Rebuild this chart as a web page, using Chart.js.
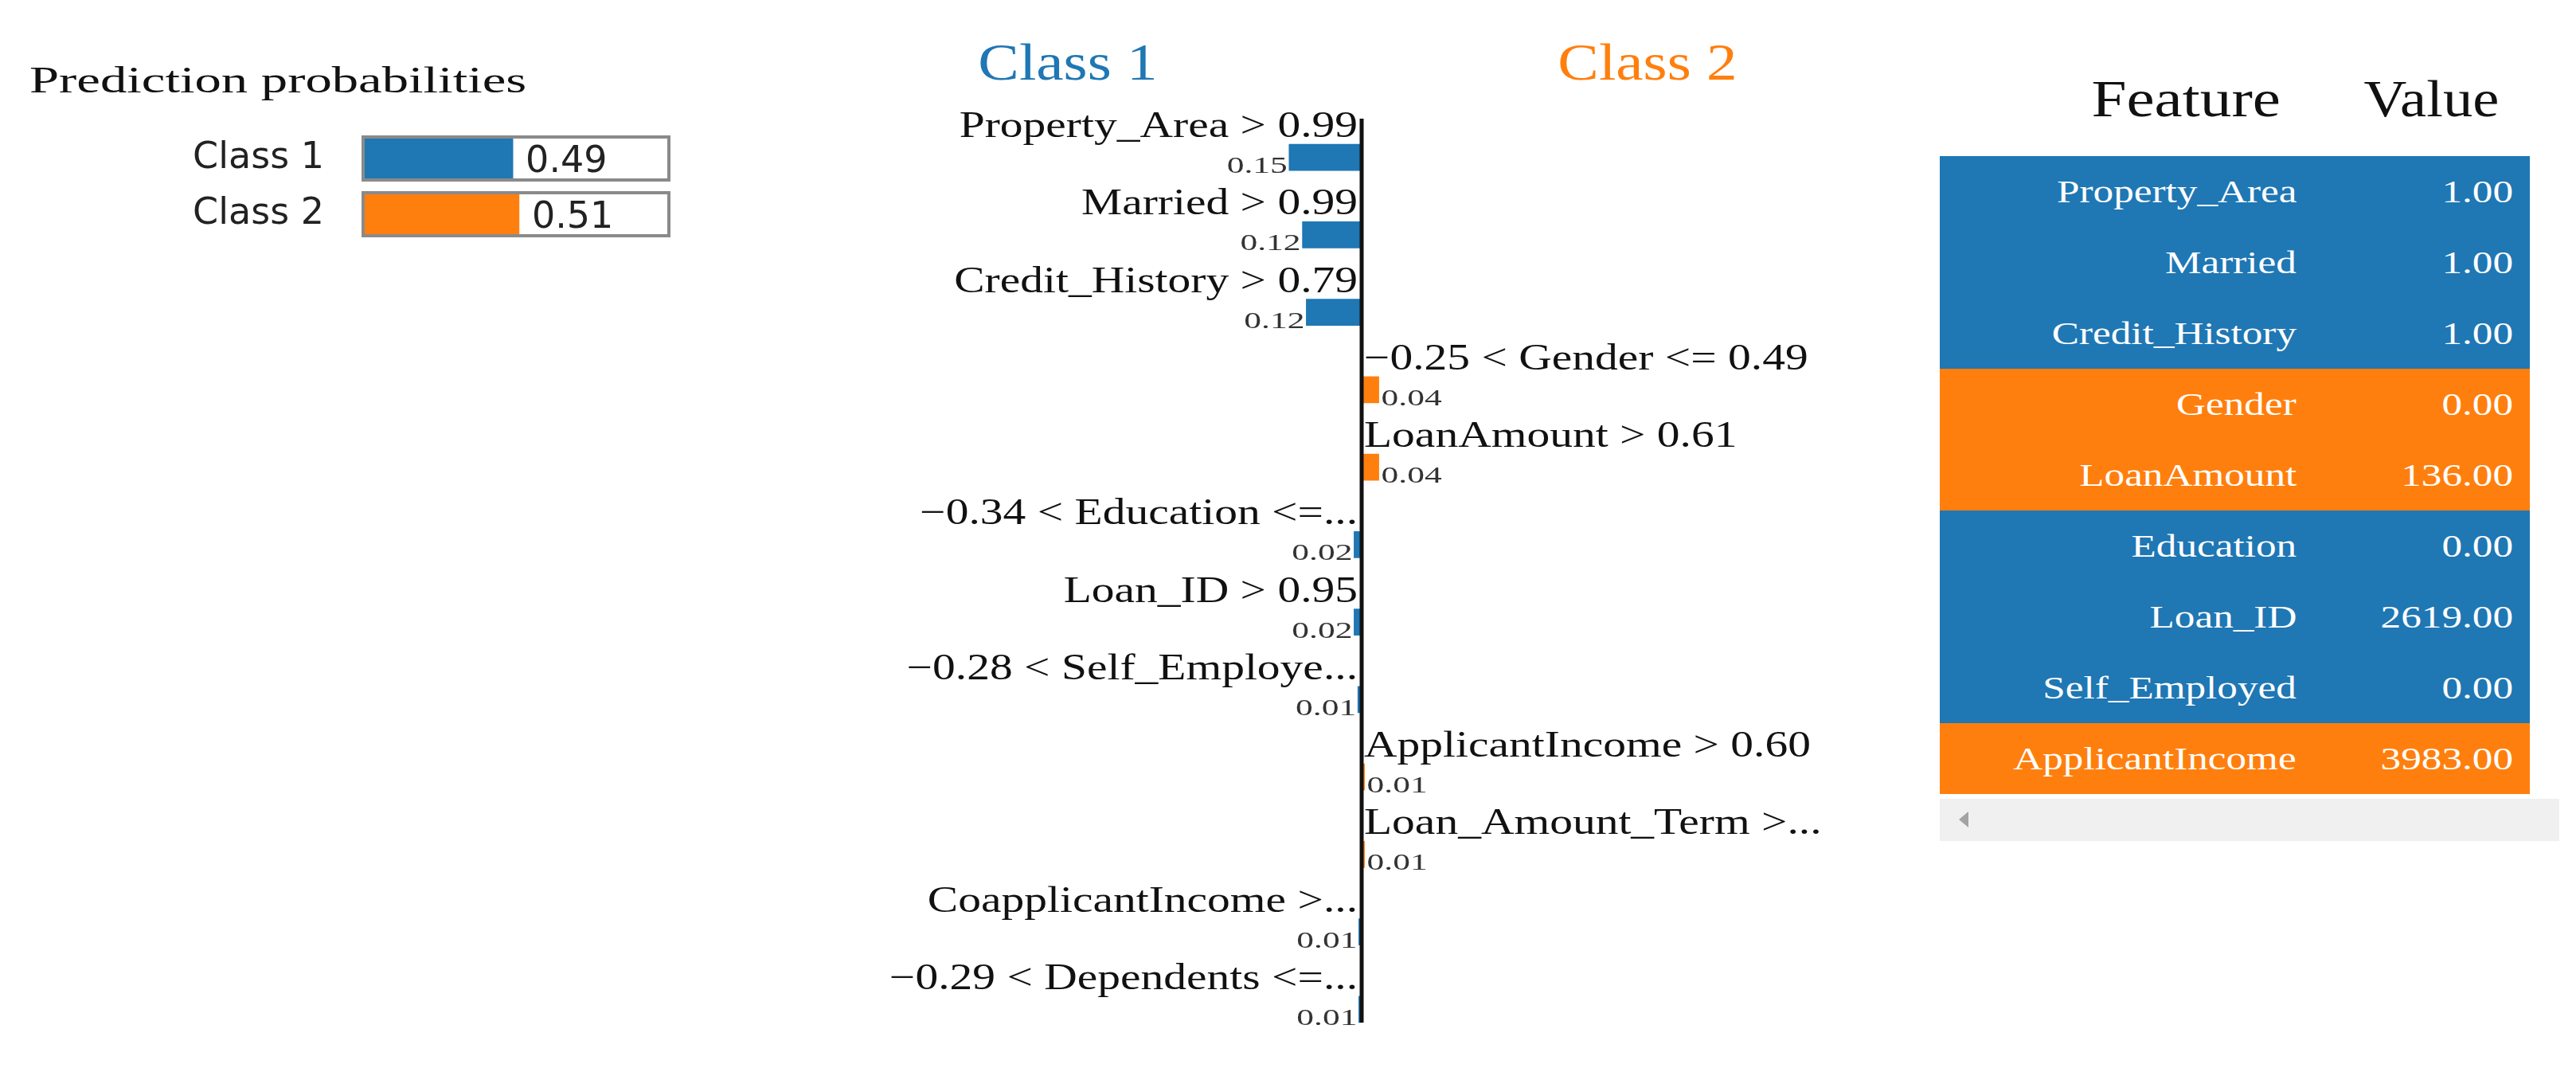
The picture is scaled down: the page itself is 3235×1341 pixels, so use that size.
<!DOCTYPE html>
<html>
<head>
<meta charset="utf-8">
<script src="https://cdn.jsdelivr.net/npm/chart.js@4.4.1/dist/chart.umd.min.js"></script>
<style>
  html, body { margin:0; padding:0; background:#fff; width:3235px; height:1341px; overflow:hidden; }
  #probWrap { position:absolute; left:0; top:0; width:900px; height:340px; }
  #probWrap canvas { display:block; width:900px; height:340px; }
  #explWrap { position:absolute; left:1000px; top:0; width:1420px; height:1341px; }
  #explWrap canvas { display:block; width:1420px; height:1341px; }
  #tbl { position:absolute; left:2436px; top:0; width:800px; height:1100px; font-family:"Liberation Serif", serif; }
  .hdr { position:absolute; top:124px; transform-origin:100% 50%; font-size:66px; color:#111; white-space:nowrap; line-height:1; }
  .row { position:absolute; left:0; width:741px; height:89px; }
  .cell { position:absolute; top:50%; color:#fff; font-size:40px; line-height:1; white-space:nowrap; transform-origin:100% 50%; }
  #scroll { position:absolute; left:0; top:1003px; width:778px; height:53px; background:#f0f0f0; }
  #arrow { position:absolute; left:24px; top:16px; width:0; height:0; border-top:10px solid transparent; border-bottom:10px solid transparent; border-right:12px solid #a3a3a3; }
</style>
</head>
<body>
<div id="probWrap"><canvas id="prob" width="900" height="340"></canvas></div>
<div id="explWrap"><canvas id="expl" width="1420" height="1341"></canvas></div>
<div id="tbl"></div>
<script>
// ---------- data ----------
const classNames = ["Class 1", "Class 2"];
const classProbs = [0.49, 0.51];

const featureConditions = [
  "Property_Area > 0.99", "Married > 0.99", "Credit_History > 0.79",
  "\u22120.25 < Gender <= 0.49", "LoanAmount > 0.61", "\u22120.34 < Education <=...",
  "Loan_ID > 0.95", "\u22120.28 < Self_Employe...", "ApplicantIncome > 0.60",
  "Loan_Amount_Term >...", "CoapplicantIncome >...", "\u22120.29 < Dependents <=..."
];
// negative = supports Class 1, positive = supports Class 2
const featureWeights = [-0.152, -0.124, -0.116, 0.036, 0.036, -0.016, -0.016, -0.008, 0.006, 0.006, -0.006, -0.006];

const tableFeatures = ["Property_Area", "Married", "Credit_History", "Gender", "LoanAmount",
                       "Education", "Loan_ID", "Self_Employed", "ApplicantIncome"];
const tableValues = ["1.00", "1.00", "1.00", "0.00", "136.00", "0.00", "2619.00", "0.00", "3983.00"];
const tableSide = [1, 1, 1, 2, 2, 1, 1, 1, 2];

const BLUE = "#1f77b4", ORANGE = "#ff7f0e";

// ---------- helpers ----------
function sText(ctx, text, x, y, font, sx, align, color) {
  ctx.save();
  ctx.font = font;
  ctx.fillStyle = color;
  ctx.textBaseline = "alphabetic";
  ctx.textAlign = "left";
  const w = ctx.measureText(text).width * sx;
  const left = align === "right" ? x - w : (align === "center" ? x - w / 2 : x);
  ctx.translate(left, y);
  ctx.scale(sx, 1);
  ctx.fillText(text, 0, 0);
  ctx.restore();
}

// ---------- prediction probabilities ----------
const probPlugin = {
  id: "probDecor",
  afterDatasetsDraw(chart) {
    const ctx = chart.ctx;
    const xs = chart.scales.x;
    const meta = chart.getDatasetMeta(0);
    sText(ctx, "Prediction probabilities", 37, 116, "46px 'Liberation Serif'", 1.45, "left", "#111");
    meta.data.forEach((bar, i) => {
      const h = bar.height;
      const x0 = xs.getPixelForValue(0), x1 = xs.getPixelForValue(1);
      ctx.save();
      ctx.strokeStyle = "#8a8a8a";
      ctx.lineWidth = 4;
      ctx.strokeRect(x0 + 2, bar.y - h / 2 - 2, x1 - x0 - 4, h + 4);
      ctx.restore();
      sText(ctx, classProbs[i].toFixed(2), bar.x + 16, bar.y + 17, "46px 'DejaVu Sans'", 1.0, "left", "#222");
    });
  }
};

new Chart(document.getElementById("prob"), {
  type: "bar",
  data: {
    labels: classNames,
    datasets: [{
      data: classProbs,
      backgroundColor: [BLUE, ORANGE],
      borderWidth: 0,
      barThickness: 50
    }]
  },
  options: {
    indexAxis: "y",
    responsive: false,
    maintainAspectRatio: false,
    animation: false,
    events: [],
    layout: { padding: { left: 0, right: 58, top: 164, bottom: 36 } },
    plugins: { legend: { display: false }, tooltip: { enabled: false } },
    scales: {
      x: { min: 0, max: 1, display: false },
      y: {
        grid: { display: false },
        border: { display: false },
        ticks: { color: "#222", font: { family: "DejaVu Sans", size: 46 }, padding: 39 },
        afterFit(scale) { scale.width = 454; scale.paddingTop = 0; scale.paddingBottom = 0; }
      }
    }
  },
  plugins: [probPlugin]
});

// ---------- explanation ----------
const explPlugin = {
  id: "explDecor",
  afterDatasetsDraw(chart) {
    const ctx = chart.ctx;
    const xs = chart.scales.x;
    const x0 = xs.getPixelForValue(0);
    const meta = chart.getDatasetMeta(0);
    sText(ctx, "Class 1", 341, 100, "66px 'Liberation Serif'", 1.17, "center", BLUE);
    sText(ctx, "Class 2", 1069, 100, "66px 'Liberation Serif'", 1.17, "center", ORANGE);
    meta.data.forEach((bar, i) => {
      const w = featureWeights[i];
      const top = bar.y - bar.height / 2, bottom = bar.y + bar.height / 2;
      const lab = featureConditions[i];
      const val = Math.abs(w).toFixed(2);
      if (w < 0) {
        sText(ctx, lab, x0 - 5, top - 9, "46px 'Liberation Serif'", 1.25, "right", "#111");
        sText(ctx, val, bar.x - 2, bottom + 3, "30px 'Liberation Serif'", 1.45, "right", "#333");
      } else {
        sText(ctx, lab, x0 + 3, top - 9, "46px 'Liberation Serif'", 1.25, "left", "#111");
        sText(ctx, val, bar.x + 3, bottom + 3, "30px 'Liberation Serif'", 1.45, "left", "#333");
      }
    });
    const last = meta.data[meta.data.length - 1];
    ctx.save();
    ctx.strokeStyle = "#111";
    ctx.lineWidth = 5;
    ctx.beginPath();
    ctx.moveTo(x0, chart.chartArea.top);
    ctx.lineTo(x0, last.y + last.height / 2);
    ctx.stroke();
    ctx.restore();
  }
};

new Chart(document.getElementById("expl"), {
  type: "bar",
  data: {
    labels: featureConditions,
    datasets: [{
      data: featureWeights,
      backgroundColor: featureWeights.map(v => v < 0 ? BLUE : ORANGE),
      borderWidth: 0,
      barThickness: 33
    }]
  },
  options: {
    indexAxis: "y",
    responsive: false,
    maintainAspectRatio: false,
    animation: false,
    events: [],
    layout: { padding: { left: 110, right: 110, top: 149, bottom: 25 } },
    plugins: { legend: { display: false }, tooltip: { enabled: false } },
    scales: {
      x: { min: -1.0, max: 1.0, display: false },
      y: { display: false }
    }
  },
  plugins: [explPlugin]
});

// ---------- table ----------
(function () {
  const t = document.getElementById("tbl");
  const h1 = document.createElement("div");
  h1.className = "hdr"; h1.textContent = "Feature";
  h1.style.right = (800 - 428) + "px";
  h1.style.transform = "translateY(-50%) scaleX(1.2)";
  t.appendChild(h1);
  const h2 = document.createElement("div");
  h2.className = "hdr"; h2.textContent = "Value";
  h2.style.right = (800 - 702) + "px";
  h2.style.transform = "translateY(-50%) scaleX(1.13)";
  t.appendChild(h2);
  tableFeatures.forEach((f, i) => {
    const r = document.createElement("div");
    r.className = "row";
    r.style.top = (196 + i * 89) + "px";
    r.style.background = tableSide[i] === 1 ? BLUE : ORANGE;
    const c1 = document.createElement("div");
    c1.className = "cell"; c1.textContent = f;
    c1.style.right = (741 - 448) + "px";
    c1.style.transform = "translateY(-50%) scaleX(1.28)";
    const c2 = document.createElement("div");
    c2.className = "cell"; c2.textContent = tableValues[i];
    c2.style.right = (741 - 720) + "px";
    c2.style.transform = "translateY(-50%) scaleX(1.28)";
    r.appendChild(c1); r.appendChild(c2);
    t.appendChild(r);
  });
  const s = document.createElement("div");
  s.id = "scroll";
  const a = document.createElement("div");
  a.id = "arrow";
  s.appendChild(a);
  t.appendChild(s);
})();
</script>
</body>
</html>
